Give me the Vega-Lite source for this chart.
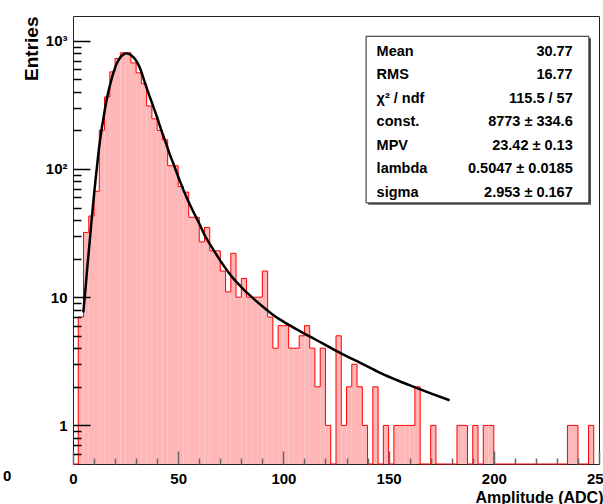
{
  "$schema": "https://vega.github.io/schema/vega-lite/v6.json",
  "width": 526,
  "height": 448,
  "autosize": "none",
  "padding": {"left": 73, "top": 16, "right": 4, "bottom": 40},
  "background": "white",
  "config": {"view": {"stroke": "#222", "strokeWidth": 1}, "font": "Liberation Sans", "axis": {"ticks": true, "tickOpacity": 1}},
  "title": {"text": "0", "orient": "bottom", "anchor": "start", "frame": "group", "dx": -70, "offset": -36, "fontSize": 15, "fontWeight": "bold", "font": "Liberation Sans", "color": "black", "align": "left", "baseline": "top"},
  "datasets": {
    "hist": [
      {"lo": 0, "hi": 2.5, "n": 0}, {"lo": 2.5, "hi": 5, "n": 7}, {"lo": 5, "hi": 7.5, "n": 32}, {"lo": 7.5, "hi": 10, "n": 43},
      {"lo": 10, "hi": 12.5, "n": 67}, {"lo": 12.5, "hi": 15, "n": 201}, {"lo": 15, "hi": 17.5, "n": 365}, {"lo": 17.5, "hi": 20, "n": 572},
      {"lo": 20, "hi": 22.5, "n": 727}, {"lo": 22.5, "hi": 25, "n": 806}, {"lo": 25, "hi": 27.5, "n": 806}, {"lo": 27.5, "hi": 30, "n": 672},
      {"lo": 30, "hi": 32.5, "n": 562}, {"lo": 32.5, "hi": 35, "n": 462}, {"lo": 35, "hi": 37.5, "n": 310}, {"lo": 37.5, "hi": 40, "n": 246},
      {"lo": 40, "hi": 42.5, "n": 200}, {"lo": 42.5, "hi": 45, "n": 169}, {"lo": 45, "hi": 47.5, "n": 106}, {"lo": 47.5, "hi": 50, "n": 106},
      {"lo": 50, "hi": 52.5, "n": 73}, {"lo": 52.5, "hi": 55, "n": 66}, {"lo": 55, "hi": 57.5, "n": 42}, {"lo": 57.5, "hi": 60, "n": 42},
      {"lo": 60, "hi": 62.5, "n": 27}, {"lo": 62.5, "hi": 65, "n": 35}, {"lo": 65, "hi": 67.5, "n": 23}, {"lo": 67.5, "hi": 70, "n": 23},
      {"lo": 70, "hi": 72.5, "n": 16}, {"lo": 72.5, "hi": 75, "n": 11}, {"lo": 75, "hi": 77.5, "n": 22}, {"lo": 77.5, "hi": 80, "n": 10},
      {"lo": 80, "hi": 82.5, "n": 14}, {"lo": 82.5, "hi": 85, "n": 10}, {"lo": 85, "hi": 87.5, "n": 10}, {"lo": 87.5, "hi": 90, "n": 10},
      {"lo": 90, "hi": 92.5, "n": 16}, {"lo": 92.5, "hi": 95, "n": 7}, {"lo": 95, "hi": 97.5, "n": 4}, {"lo": 97.5, "hi": 100, "n": 6},
      {"lo": 100, "hi": 102.5, "n": 6}, {"lo": 102.5, "hi": 105, "n": 4}, {"lo": 105, "hi": 107.5, "n": 4}, {"lo": 107.5, "hi": 110, "n": 5},
      {"lo": 110, "hi": 112.5, "n": 6}, {"lo": 112.5, "hi": 115, "n": 4}, {"lo": 115, "hi": 117.5, "n": 2}, {"lo": 117.5, "hi": 120, "n": 4},
      {"lo": 120, "hi": 122.5, "n": 1}, {"lo": 122.5, "hi": 125, "n": 0}, {"lo": 125, "hi": 127.5, "n": 5}, {"lo": 127.5, "hi": 130, "n": 1},
      {"lo": 130, "hi": 132.5, "n": 2}, {"lo": 132.5, "hi": 135, "n": 3}, {"lo": 135, "hi": 137.5, "n": 2}, {"lo": 137.5, "hi": 140, "n": 1},
      {"lo": 140, "hi": 142.5, "n": 0}, {"lo": 142.5, "hi": 145, "n": 2}, {"lo": 145, "hi": 147.5, "n": 0}, {"lo": 147.5, "hi": 150, "n": 1},
      {"lo": 150, "hi": 152.5, "n": 0}, {"lo": 152.5, "hi": 155, "n": 1}, {"lo": 155, "hi": 157.5, "n": 1}, {"lo": 157.5, "hi": 160, "n": 1},
      {"lo": 160, "hi": 162.5, "n": 1}, {"lo": 162.5, "hi": 165, "n": 2}, {"lo": 165, "hi": 167.5, "n": 0}, {"lo": 167.5, "hi": 170, "n": 0},
      {"lo": 170, "hi": 172.5, "n": 1}, {"lo": 172.5, "hi": 175, "n": 0}, {"lo": 175, "hi": 177.5, "n": 0}, {"lo": 177.5, "hi": 180, "n": 0},
      {"lo": 180, "hi": 182.5, "n": 0}, {"lo": 182.5, "hi": 185, "n": 1}, {"lo": 185, "hi": 187.5, "n": 1}, {"lo": 187.5, "hi": 190, "n": 0},
      {"lo": 190, "hi": 192.5, "n": 1}, {"lo": 192.5, "hi": 195, "n": 0}, {"lo": 195, "hi": 197.5, "n": 1}, {"lo": 197.5, "hi": 200, "n": 1},
      {"lo": 200, "hi": 202.5, "n": 0}, {"lo": 202.5, "hi": 205, "n": 0}, {"lo": 205, "hi": 207.5, "n": 0}, {"lo": 207.5, "hi": 210, "n": 0},
      {"lo": 210, "hi": 212.5, "n": 0}, {"lo": 212.5, "hi": 215, "n": 0}, {"lo": 215, "hi": 217.5, "n": 0}, {"lo": 217.5, "hi": 220, "n": 0},
      {"lo": 220, "hi": 222.5, "n": 0}, {"lo": 222.5, "hi": 225, "n": 0}, {"lo": 225, "hi": 227.5, "n": 0}, {"lo": 227.5, "hi": 230, "n": 0},
      {"lo": 230, "hi": 232.5, "n": 0}, {"lo": 232.5, "hi": 235, "n": 0}, {"lo": 235, "hi": 237.5, "n": 1}, {"lo": 237.5, "hi": 240, "n": 1},
      {"lo": 240, "hi": 242.5, "n": 0}, {"lo": 242.5, "hi": 245, "n": 0}, {"lo": 245, "hi": 247.5, "n": 1}, {"lo": 247.5, "hi": 250, "n": 0}
    ],
    "fit": [
      {"x": 4.9, "y": 7.6}, {"x": 6, "y": 12}, {"x": 7, "y": 18.6}, {"x": 8, "y": 28}, {"x": 9, "y": 42.7}, {"x": 10, "y": 63},
      {"x": 11, "y": 91}, {"x": 12, "y": 129}, {"x": 13, "y": 174}, {"x": 14, "y": 224}, {"x": 15, "y": 282}, {"x": 16, "y": 347},
      {"x": 17, "y": 412}, {"x": 18, "y": 479}, {"x": 19, "y": 550}, {"x": 20, "y": 617}, {"x": 21, "y": 676}, {"x": 22, "y": 720},
      {"x": 23, "y": 758}, {"x": 24, "y": 783}, {"x": 25, "y": 795}, {"x": 26, "y": 795}, {"x": 27, "y": 783}, {"x": 28, "y": 762},
      {"x": 29, "y": 735}, {"x": 30, "y": 700}, {"x": 31, "y": 655}, {"x": 32, "y": 602}, {"x": 33, "y": 540}, {"x": 34, "y": 480},
      {"x": 35, "y": 430}, {"x": 36, "y": 385}, {"x": 38, "y": 312}, {"x": 40, "y": 252}, {"x": 42, "y": 200}, {"x": 44, "y": 162},
      {"x": 46, "y": 130}, {"x": 48, "y": 107}, {"x": 51, "y": 79}, {"x": 54, "y": 60}, {"x": 57, "y": 47}, {"x": 60, "y": 37.6},
      {"x": 63, "y": 29.5}, {"x": 66, "y": 24.5}, {"x": 70, "y": 19.3}, {"x": 75, "y": 14.8}, {"x": 80, "y": 12}, {"x": 85, "y": 10},
      {"x": 90, "y": 8.5}, {"x": 95, "y": 7.3}, {"x": 100, "y": 6.45}, {"x": 108, "y": 5.42}, {"x": 115, "y": 4.7}, {"x": 124, "y": 3.9},
      {"x": 130, "y": 3.47}, {"x": 137, "y": 3.05}, {"x": 146, "y": 2.57}, {"x": 155, "y": 2.22}, {"x": 162, "y": 2.0}, {"x": 170, "y": 1.78},
      {"x": 179, "y": 1.57}
    ],
    "stats": [
      {"name": "Mean", "val": "30.77"},
      {"name": "RMS", "val": "16.77"},
      {"name": "χ² / ndf", "val": "115.5 / 57"},
      {"name": "const.", "val": "8773 ± 334.6"},
      {"name": "MPV", "val": "23.42 ± 0.13"},
      {"name": "lambda", "val": "0.5047 ± 0.0185"},
      {"name": "sigma", "val": "2.953 ± 0.167"}
    ]
  },
  "layer": [
    {
      "data": {"name": "hist"},
      "transform": [{"filter": "datum.n > 0"}],
      "mark": {"type": "rect", "fill": "#ffb6b6", "strokeWidth": 0},
      "encoding": {
        "x": {"field": "lo", "type": "quantitative",
          "scale": {"domain": [0, 250], "nice": false, "zero": false},
          "axis": {
            "orient": "bottom", "offset": -13, "ticks": true,
            "values": [0, 50, 100, 150, 200, 250],
            "tickSize": 13, "tickWidth": 1.5, "tickColor": "#666", "tickOpacity": 1, "domain": false, "grid": false, "zindex": 2,
            "labelFont": "Liberation Sans", "labelFontWeight": "bold", "labelFontSize": 15, "labelColor": "black",
            "labelPadding": 7, "labelFlush": false, "labelOverlap": false,
            "title": "Amplitude (ADC)", "titleFont": "Liberation Sans", "titleFontSize": 16, "titleFontWeight": "bold", "titleColor": "black",
            "titleAnchor": "end", "titleAlign": "right", "titleX": 530, "titleY": 51, "titleBaseline": "alphabetic"
          }},
        "x2": {"field": "hi"},
        "y": {"field": "n", "type": "quantitative",
          "scale": {"type": "log", "domain": [0.5, 1560], "clamp": true, "nice": false},
          "axis": {
            "orient": "left", "offset": -17, "ticks": true,
            "values": [1, 10, 100, 1000],
            "labelExpr": "datum.value === 1 ? '1' : datum.value === 10 ? '10' : datum.value === 100 ? '10²' : '10³'",
            "tickSize": 17, "tickWidth": 1.5, "tickColor": "black", "tickOpacity": 1, "domain": false, "grid": false, "zindex": 2,
            "labelFont": "Liberation Sans", "labelFontWeight": "bold", "labelFontSize": 15, "labelColor": "black",
            "labelPadding": 6, "labelOverlap": false, "labelFlush": false,
            "title": "Entries", "titleFont": "Liberation Sans", "titleFontSize": 19, "titleFontWeight": "bold", "titleColor": "black",
            "titleAngle": -90, "titleAlign": "right", "titleBaseline": "alphabetic", "titleX": -53, "titleY": 0
          }},
        "y2": {"datum": 0.5}
      }
    },
    {
      "data": {"name": "hist"},
      "mark": {"type": "line", "interpolate": "step-after", "color": "#ff0000", "strokeWidth": 1, "invalid": null},
      "encoding": {
        "x": {"field": "lo", "type": "quantitative",
          "axis": {
            "orient": "bottom", "offset": -6, "ticks": true,
            "values": [10, 20, 30, 40, 60, 70, 80, 90, 110, 120, 130, 140, 160, 170, 180, 190, 210, 220, 230, 240],
            "tickSize": 6, "tickWidth": 1.5, "tickColor": "#666", "tickOpacity": 1, "domain": false, "labels": false, "grid": false, "title": null, "zindex": 2
          }},
        "y": {"field": "n", "type": "quantitative",
          "scale": {"type": "log", "domain": [0.5, 1560], "clamp": true, "nice": false},
          "axis": {
            "orient": "left", "offset": -8, "ticks": true,
            "values": [0.6, 0.7, 0.8, 0.9, 2, 3, 4, 5, 6, 7, 8, 9, 20, 30, 40, 50, 60, 70, 80, 90, 200, 300, 400, 500, 600, 700, 800, 900],
            "tickSize": 8, "tickWidth": 1.5, "tickColor": "black", "tickOpacity": 1, "domain": false, "labels": false, "grid": false, "title": null, "zindex": 2
          }}
      }
    },
    {
      "data": {"name": "fit"},
      "mark": {"type": "line", "interpolate": "monotone", "color": "black", "strokeWidth": 2.5},
      "encoding": {
        "x": {"field": "x", "type": "quantitative", "axis": null},
        "y": {"field": "y", "type": "quantitative", "scale": {"type": "log", "domain": [0.5, 1560], "clamp": true, "nice": false}, "axis": null}
      }
    },
    {
      "data": {"values": [{}]},
      "mark": {"type": "rect", "fill": "#555", "strokeWidth": 0},
      "encoding": {
        "x": {"datum": 140.3, "axis": null}, "x2": {"datum": 246.2},
        "y": {"datum": 1046, "scale": {"type": "log", "domain": [0.5, 1560], "clamp": true, "nice": false}, "axis": null}, "y2": {"datum": 52.5}
      }
    },
    {
      "data": {"values": [{}]},
      "mark": {"type": "rect", "fill": "white", "stroke": "#222", "strokeWidth": 1},
      "encoding": {
        "x": {"datum": 139.3, "axis": null}, "x2": {"datum": 245.2},
        "y": {"datum": 1084, "scale": {"type": "log", "domain": [0.5, 1560], "clamp": true, "nice": false}, "axis": null}, "y2": {"datum": 54.4}
      }
    },
    {
      "data": {"name": "stats"},
      "mark": {"type": "text", "align": "left", "baseline": "middle", "font": "Liberation Sans", "fontWeight": "bold", "fontSize": 14.5, "color": "black"},
      "encoding": {
        "x": {"datum": 144.3, "axis": null},
        "y": {"field": "name", "type": "nominal", "sort": null, "scale": {"type": "point", "range": [35.7, 176.7], "padding": 0}, "axis": null},
        "text": {"field": "name"}
      }
    },
    {
      "data": {"name": "stats"},
      "mark": {"type": "text", "align": "right", "baseline": "middle", "font": "Liberation Sans", "fontWeight": "bold", "fontSize": 14.5, "color": "black"},
      "encoding": {
        "x": {"datum": 237.5, "axis": null},
        "y": {"field": "name", "type": "nominal", "sort": null, "scale": {"type": "point", "range": [35.7, 176.7], "padding": 0}, "axis": null},
        "text": {"field": "val"}
      }
    }
  ],
  "resolve": {"scale": {"y": "independent"}, "axis": {"x": "independent", "y": "independent"}}
}
